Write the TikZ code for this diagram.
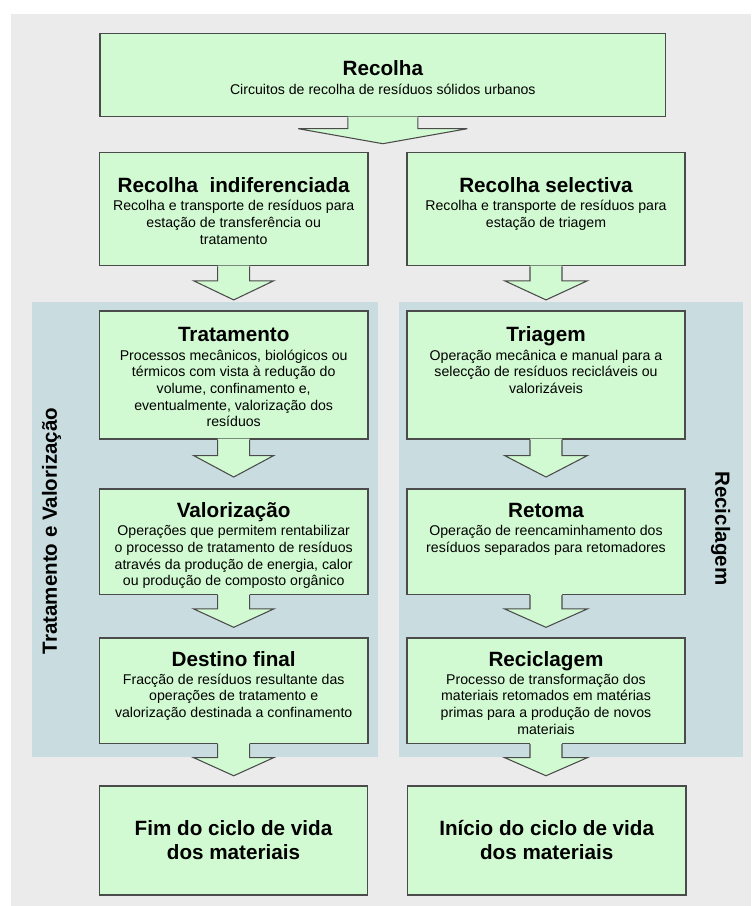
\documentclass[tikz,border=0pt]{standalone}
\usepackage{fontspec}
\setmainfont{Liberation Sans}
\usetikzlibrary{calc,positioning}

\definecolor{bggray}{RGB}{235,235,235}
\definecolor{panelblue}{RGB}{201,221,224}
\definecolor{boxgreen}{RGB}{210,250,210}
\definecolor{boxline}{RGB}{75,75,75}

\newcommand{\titlefont}{\bfseries\fontsize{15.5}{18}\selectfont}
\newcommand{\bodyfont}{\fontsize{10.6}{12.5}\selectfont}

\tikzset{
  stagebox/.style={draw=boxline, line width=1.2pt, fill=boxgreen, inner sep=0pt},
  stagetitle/.style={font=\titlefont, anchor=base, inner sep=0pt},
  stagetext/.style={font=\bodyfont, align=center, anchor=north, inner sep=0pt},
  arrowfill/.style={fill=boxgreen},
  arrowline/.style={draw=boxline, line width=0.8pt, line join=miter},
  sidelabel/.style={font=\bfseries\fontsize{15.4}{18}\selectfont, inner sep=0pt},
}

% block arrow from #1 down to #2: shaft half width #3, head half width #4
\newcommand{\blockarrow}[4]{%
  \fill[arrowfill] let \p1=(#1.south), \p2=(#1.south |- #2.north) in
    ({\x1-#3},{\y1+0.7pt}) -- ({\x1-#3},{\y1+0.33*(\y2-\y1)})
    -- ({\x1-#4},{\y1+0.33*(\y2-\y1)}) -- (\x1,{\y1+0.77*(\y2-\y1)})
    -- ({\x1+#4},{\y1+0.33*(\y2-\y1)}) -- ({\x1+#3},{\y1+0.33*(\y2-\y1)})
    -- ({\x1+#3},{\y1+0.7pt}) -- cycle;
  \draw[arrowline] let \p1=(#1.south), \p2=(#1.south |- #2.north) in
    ({\x1-#3},\y1) -- ({\x1-#3},{\y1+0.33*(\y2-\y1)})
    -- ({\x1-#4},{\y1+0.33*(\y2-\y1)}) -- (\x1,{\y1+0.77*(\y2-\y1)})
    -- ({\x1+#4},{\y1+0.33*(\y2-\y1)}) -- ({\x1+#3},{\y1+0.33*(\y2-\y1)})
    -- ({\x1+#3},\y1);
}

\begin{document}
\begin{tikzpicture}[x=0.75pt, y=-0.75pt]
  \useasboundingbox (0,0) rectangle (751,906);
  \fill[bggray] (10.5,14) rectangle (751,906);
  % the two phase panels
  \fill[panelblue] (31.6,301.7) rectangle (378,756.7);
  \fill[panelblue] (398.5,301.7) rectangle (743,756.7);
  \node[sidelabel, rotate=90] (tratval) at (51.6,531) {Tratamento e Valorização};
  \node[sidelabel, rotate=-90] (recsid) at (720.6,528.3) {Reciclagem};

  % boxes
  \node[stagebox, minimum width=424.3pt, minimum height=62.5pt] (recolha) at (382.8,75) {};
  \node[stagebox, minimum width=201.2pt, minimum height=85pt] (indif) at (233.7,209) {};
  \node[stagebox, minimum width=208.5pt, minimum height=85pt] (selectiva) at (546,209) {};
  \node[stagebox, minimum width=201.2pt, minimum height=96pt] (tratamento) at (233.7,374.7) {};
  \node[stagebox, minimum width=208.5pt, minimum height=96pt] (triagem) at (546,374.7) {};
  \node[stagebox, minimum width=201.2pt, minimum height=79pt] (valorizacao) at (233.7,541.7) {};
  \node[stagebox, minimum width=208.5pt, minimum height=79pt] (retoma) at (546,541.7) {};
  \node[stagebox, minimum width=201.2pt, minimum height=79.2pt] (destino) at (233.7,690.5) {};
  \node[stagebox, minimum width=208.5pt, minimum height=79.2pt] (reciclagem) at (546,690.5) {};
  \node[stagebox, minimum width=200.8pt, minimum height=81.75pt, font=\titlefont, align=center] (fim) at (233.5,840.5) {Fim do ciclo de vida\\dos materiais};
  \node[stagebox, minimum width=208.6pt, minimum height=81.75pt, font=\titlefont, align=center] (inicio) at (546.7,840.5) {Início do ciclo de vida\\dos materiais};

  % titles and descriptions
  \node[stagetitle] (recolha-t) at (382.8,75.3) {Recolha};
  \node[stagetext] (recolha-b) at (382.8,82.7) {\strut Circuitos de recolha de resíduos sólidos urbanos};
  \node[stagetitle] (indif-t) at (233.7,192) {Recolha\ \ indiferenciada};
  \node[stagetext] (indif-b) at (233.7,199) {\strut Recolha e transporte de resíduos para\\estação de transferência ou\\tratamento};
  \node[stagetitle] (selectiva-t) at (546,192) {Recolha selectiva};
  \node[stagetext] (selectiva-b) at (546,199) {\strut Recolha e transporte de resíduos para\\estação de triagem};
  \node[stagetitle] (tratamento-t) at (233.7,341) {Tratamento};
  \node[stagetext] (tratamento-b) at (233.7,348.3) {\strut Processos mecânicos, biológicos ou\\térmicos com vista à redução do\\volume, confinamento e,\\eventualmente, valorização dos\\resíduos};
  \node[stagetitle] (triagem-t) at (546,341) {Triagem};
  \node[stagetext] (triagem-b) at (546,348.3) {\strut Operação mecânica e manual para a\\selecção de resíduos recicláveis ou\\valorizáveis};
  \node[stagetitle] (valorizacao-t) at (233.7,517) {Valorização};
  \node[stagetext] (valorizacao-b) at (233.7,524) {\strut Operações que permitem rentabilizar\\o processo de tratamento de resíduos\\através da produção de energia, calor\\ou produção de composto orgânico};
  \node[stagetitle] (retoma-t) at (546,517) {Retoma};
  \node[stagetext] (retoma-b) at (546,524) {\strut Operação de reencaminhamento dos\\resíduos separados para retomadores};
  \node[stagetitle] (destino-t) at (233.7,666.3) {Destino final};
  \node[stagetext] (destino-b) at (233.7,672.3) {\strut Fracção de resíduos resultante das\\operações de tratamento e\\valorização destinada a confinamento};
  \node[stagetitle] (reciclagem-t) at (546,666.3) {Reciclagem};
  \node[stagetext] (reciclagem-b) at (546,672.3) {\strut Processo de transformação dos\\materiais retomados em matérias\\primas para a produção de novos\\materiais};

  % arrows
  \blockarrow{recolha}{indif}{26.25pt}{63.4pt}
  \blockarrow{indif}{tratamento}{12pt}{30pt}
  \blockarrow{selectiva}{triagem}{12pt}{31pt}
  \blockarrow{tratamento}{valorizacao}{12pt}{30pt}
  \blockarrow{triagem}{retoma}{12pt}{31pt}
  \blockarrow{valorizacao}{destino}{12pt}{30pt}
  \blockarrow{retoma}{reciclagem}{12pt}{31pt}
  \blockarrow{destino}{fim}{12pt}{30pt}
  \blockarrow{reciclagem}{inicio}{12pt}{31pt}
\end{tikzpicture}
\end{document}
